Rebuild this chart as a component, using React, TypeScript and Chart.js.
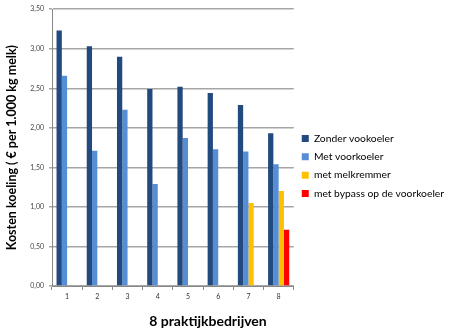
import React, { useEffect, useRef } from "react";
import { Chart, registerables } from "chart.js";

Chart.register(...registerables);

const categories = ["1", "2", "3", "4", "5", "6", "7", "8"];
const zonderVoorkoeler = [3.23, 3.03, 2.9, 2.49, 2.52, 2.44, 2.29, 1.93];
const metVoorkoeler = [2.66, 1.71, 2.23, 1.29, 1.87, 1.73, 1.7, 1.54];
const metMelkremmer = [null, null, null, null, null, null, 1.05, 1.2];
const metBypass = [null, null, null, null, null, null, null, 0.71];
const seriesLabels = [
  "Zonder vookoeler",
  "Met voorkoeler",
  "met melkremmer",
  "met bypass op de voorkoeler",
];
const seriesColors = ["#234A7E", "#558ED5", "#FFC000", "#FF0000"];
const xTitle = "8 praktijkbedrijven";
const yTitle = "Kosten koeling ( € per 1.000 kg melk)";

const FONT = "Lato, 'Noto Sans', sans-serif";

// Draws the x-axis caption below the category labels
const xTitlePlugin = {
  id: "xTitle",
  afterDraw(chart: Chart) {
    const ctx = chart.ctx;
    ctx.save();
    ctx.font = `bold 14px ${FONT}`;
    ctx.fillStyle = "#000";
    ctx.textAlign = "center";
    ctx.textBaseline = "middle";
    ctx.fillText(xTitle, 208, 321);
    ctx.restore();
  },
};

export default function App() {
  const ref = useRef<HTMLCanvasElement>(null);

  useEffect(() => {
    document.body.style.margin = "0";
    if (!ref.current) return;
    const data = [zonderVoorkoeler, metVoorkoeler, metMelkremmer, metBypass];
    const chart = new Chart(ref.current, {
      type: "bar",
      data: {
        labels: categories,
        datasets: data.map((d, i) => ({
          label: seriesLabels[i],
          data: d,
          backgroundColor: seriesColors[i],
          borderWidth: 0,
          categoryPercentage: 0.7,
          barPercentage: 1,
        })),
      },
      options: {
        animation: false,
        responsive: false,
        devicePixelRatio: 1,
        layout: { padding: { top: 8, left: 4, right: 6, bottom: 8 } },
        plugins: {
          tooltip: { enabled: false },
          legend: {
            position: "right",
            align: "center",
            maxWidth: 200,
            labels: {
              boxWidth: 7,
              boxHeight: 7,
              padding: 8,
              color: "#000",
              font: { family: FONT, size: 10.3 },
            },
          },
        },
        scales: {
          x: {
            offset: true,
            grid: {
              offset: true,
              drawOnChartArea: false,
              drawTicks: true,
              tickLength: 4,
              color: "#888",
            },
            border: { color: "#888" },
            ticks: {
              color: "#333",
              font: { family: FONT, size: 7 },
              padding: 3,
            },
            afterFit(scale: any) {
              scale.height = 38;
            },
          },
          y: {
            min: 0,
            max: 3.5,
            ticks: {
              stepSize: 0.5,
              color: "#444",
              font: { family: FONT, size: 7 },
              padding: 5,
              callback: (v: any) => Number(v).toFixed(2).replace(".", ","),
            },
            grid: { color: "#a6a6a6", lineWidth: 1.5, tickLength: 3 },
            border: { color: "#888" },
            title: {
              display: true,
              text: yTitle,
              color: "#000",
              font: { family: FONT, size: 12.5, weight: "bold" },
              padding: { top: 0, bottom: 4 },
            },
            afterFit(scale: any) {
              scale.width = 48;
            },
          },
        },
      },
      plugins: [xTitlePlugin],
    });
    return () => chart.destroy();
  }, []);

  return (
    <div style={{ width: 460, height: 332, background: "#fff" }}>
      <canvas ref={ref} width={460} height={332} />
    </div>
  );
}
